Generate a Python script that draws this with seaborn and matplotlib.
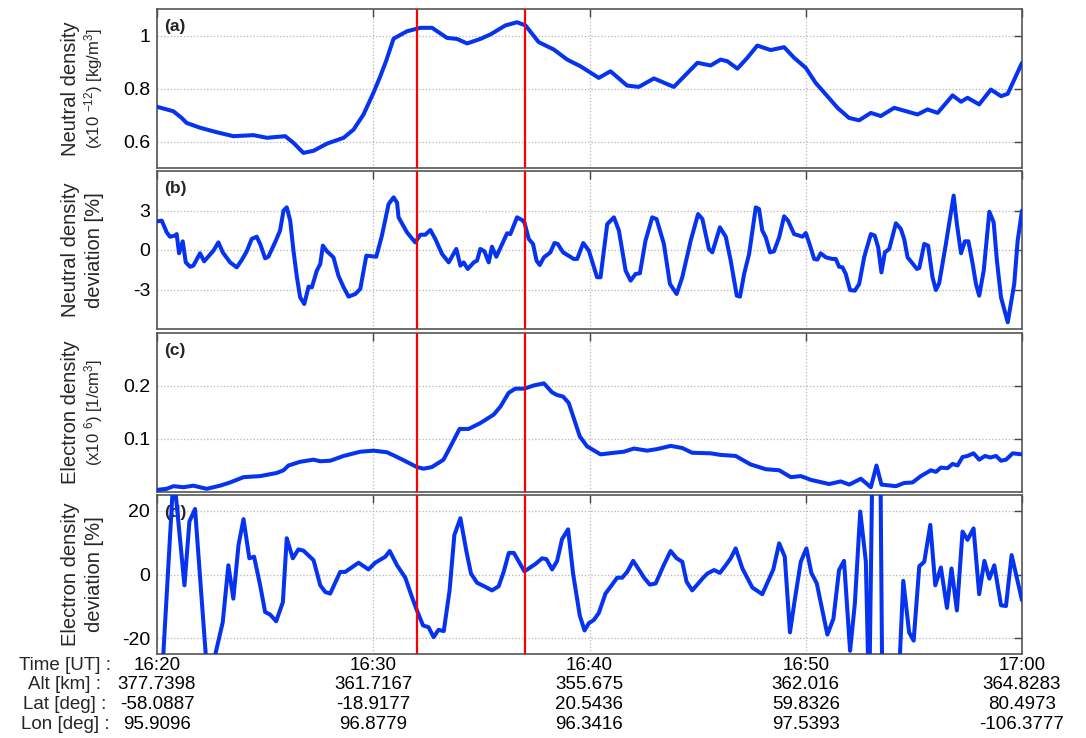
import matplotlib
matplotlib.use("Agg")
import matplotlib.pyplot as plt
import numpy as np
import pandas as pd
import seaborn as sns

# ---------------- data (minutes after 16:20 UT) ----------------
t_a = [0, 0.76, 1.14, 1.37, 1.99, 2.76, 3.53, 4.46, 5.08, 5.93, 6.31, 6.77, 7.24, 7.86, 8.63,
       9.09, 9.55, 10.01, 10.32, 10.6, 10.94, 11.56, 12.18, 12.72, 13.41, 13.87, 14.34, 14.95,
       15.42, 16.11, 16.65, 17.04, 17.65, 18.35, 18.97, 19.58, 20.43, 20.97, 21.74, 22.28,
       22.98, 23.90, 24.99, 25.60, 26.06, 26.37, 26.84, 27.30, 27.76, 28.38, 29.0, 29.46, 30.0,
       30.46, 31.0, 31.47, 32.0, 32.47, 33.01, 33.47, 34.09, 35.17, 35.63, 36.10, 36.79, 37.18,
       37.48, 38.02, 38.56, 39.03, 39.34, 40.0]
neutral_density = [0.731, 0.714, 0.689, 0.670, 0.652, 0.635, 0.620, 0.624, 0.614, 0.620,
                   0.595, 0.557, 0.565, 0.592, 0.614, 0.645, 0.702, 0.784, 0.845, 0.905,
                   0.988, 1.016, 1.029, 1.029, 0.991, 0.987, 0.970, 0.987, 1.004, 1.038,
                   1.050, 1.038, 0.975, 0.947, 0.909, 0.884, 0.840, 0.865, 0.811, 0.806,
                   0.838, 0.806, 0.897, 0.887, 0.909, 0.903, 0.875, 0.916, 0.962, 0.945,
                   0.956, 0.916, 0.878, 0.821, 0.771, 0.727, 0.689, 0.680, 0.708, 0.696,
                   0.727, 0.702, 0.721, 0.708, 0.774, 0.750, 0.765, 0.740, 0.796, 0.771,
                   0.780, 0.897]

t_b = [0, 0.22, 0.45, 0.60, 0.83, 0.91, 1.02, 1.19, 1.33, 1.53,
       1.68, 1.99, 2.18, 2.61, 2.84, 3.04, 3.38, 3.69, 3.92, 4.15,
       4.38, 4.61, 4.77, 5.00, 5.15, 5.46, 5.69, 5.85, 6.00, 6.16,
       6.31, 6.47, 6.62, 6.81, 7.01, 7.16, 7.39, 7.55, 7.67, 7.86,
       8.16, 8.39, 8.63, 8.86, 9.17, 9.40, 9.68, 10.14, 10.40, 10.71,
       10.94, 11.10, 11.17, 11.56, 11.94, 12.18, 12.41, 12.64, 12.87, 13.18,
       13.49, 13.84, 14.03, 14.18, 14.37, 14.65, 14.80, 14.95, 15.14, 15.34,
       15.49, 15.69, 15.96, 16.19, 16.34, 16.65, 16.88, 16.99, 17.19, 17.39,
       17.55, 17.70, 17.89, 18.19, 18.38, 18.53, 18.78, 19.27, 19.43, 19.71,
       19.97, 20.35, 20.51, 20.82, 21.13, 21.36, 21.67, 21.90, 22.13, 22.33,
       22.59, 22.90, 23.10, 23.44, 23.72, 24.03, 24.29, 24.68, 25.02, 25.22,
       25.52, 25.68, 26.03, 26.30, 26.53, 26.81, 26.96, 27.15, 27.38, 27.69,
       27.84, 27.99, 28.15, 28.35, 28.53, 28.77, 29.00, 29.18, 29.46, 29.69,
       29.85, 30.00, 30.15, 30.39, 30.54, 30.69, 30.93, 31.23, 31.39, 31.54,
       31.70, 31.85, 32.05, 32.27, 32.47, 32.70, 33.01, 33.19, 33.35, 33.50,
       33.66, 33.86, 34.17, 34.40, 34.55, 34.71, 34.86, 35.14, 35.25, 35.48,
       35.66, 35.86, 36.02, 36.17, 36.48, 36.84, 36.99, 37.18, 37.36, 37.52,
       37.72, 37.87, 38.02, 38.23, 38.49, 38.69, 38.84, 39.03, 39.34, 39.64,
       39.80, 40.00]
neutral_deviation = [2.18, 2.23, 1.34, 1.01, 1.09, 1.21, -0.25, 0.66, -0.94, -1.27,
                     -1.19, -0.25, -0.86, -0.05, 0.58, -0.18, -0.94, -1.32, -0.76, -0.10,
                     0.84, 1.01, 0.46, -0.63, -0.51, 0.58, 1.47, 2.99, 3.24, 2.23,
                     -0.05, -2.07, -3.60, -4.10, -2.78, -2.84, -1.57, -1.06, 0.33, -0.10,
                     -0.56, -1.95, -2.84, -3.54, -3.34, -2.96, -0.43, -0.51, 1.09, 3.49,
                     4.00, 3.60, 2.48, 1.34, 0.58, 1.16, 1.16, 1.52, 0.84, -0.30,
                     -0.94, 0.08, -1.19, -0.94, -1.44, -0.94, -0.81, 0.08, -0.10, -0.94,
                     0.25, -0.51, 0.46, 1.27, 1.21, 2.48, 2.28, 2.10, 0.84, 0.46,
                     -0.81, -1.14, -0.56, -0.18, 0.53, 0.46, -0.18, -0.68, -0.68, 0.53,
                     -0.05, -2.07, -2.07, 1.97, 2.48, 1.47, -1.57, -2.33, -1.82, -1.77,
                     0.71, 2.48, 2.35, 0.46, -2.58, -3.34, -2.07, 0.71, 2.73, 2.35,
                     0.08, -0.18, 1.72, 1.01, -0.81, -3.47, -3.54, -1.82, -0.30, 3.24,
                     3.11, 1.47, 0.96, -0.18, -0.10, 0.96, 2.56, 2.23, 1.21, 1.09,
                     1.01, 1.29, 0.58, -0.68, -0.73, -0.25, -0.56, -0.68, -0.68, -1.27,
                     -1.32, -1.82, -3.04, -3.09, -2.58, -0.56, 1.21, 1.09, 0.20, -1.70,
                     -0.18, 0.08, 2.03, 1.59, 0.84, -0.56, -0.86, -1.44, -1.37, 0.46,
                     0.33, -2.07, -3.04, -2.53, 0.46, 4.13, 1.97, -0.25, 0.66, 0.66,
                     -1.06, -2.58, -3.47, -1.57, 2.91, 2.10, -0.81, -3.60, -5.49, -2.58,
                     0.71, 2.99]

t_c = [0, 0.45, 0.76, 1.22, 1.68, 2.30, 2.92, 3.38, 4.0, 4.77,
       5.54, 5.85, 6.08, 6.62, 7.24, 7.55, 8.01, 8.63, 9.40, 10.02,
       10.63, 11.0, 11.40, 12.02, 12.33, 12.71, 13.25, 13.56, 13.99, 14.41,
       14.95, 15.57, 15.88, 16.26, 16.57, 16.99, 17.42, 17.89, 18.27, 18.50,
       18.78, 19.04, 19.55, 19.89, 20.51, 21.13, 21.59, 22.05, 22.67, 23.13,
       23.75, 24.29, 24.75, 25.60, 26.06, 26.76, 27.45, 28.15, 28.77, 29.31,
       29.77, 30.23, 31.08, 31.62, 32.01, 32.55, 33.01, 33.27, 33.50, 34.17,
       34.55, 34.94, 35.32, 35.79, 36.02, 36.25, 36.56, 36.79, 37.02, 37.25,
       37.48, 37.76, 38.02, 38.29, 38.53, 38.80, 39.03, 39.26, 39.57, 40.0]
electron_density = [0.004, 0.006, 0.011, 0.009, 0.012, 0.006, 0.012, 0.018, 0.028, 0.030,
                    0.036, 0.041, 0.050, 0.057, 0.061, 0.058, 0.059, 0.068, 0.076, 0.078,
                    0.075, 0.068, 0.060, 0.047, 0.044, 0.047, 0.061, 0.085, 0.119, 0.119,
                    0.130, 0.146, 0.161, 0.187, 0.195, 0.195, 0.201, 0.205, 0.188, 0.183,
                    0.180, 0.168, 0.105, 0.086, 0.071, 0.074, 0.076, 0.082, 0.078, 0.081,
                    0.087, 0.083, 0.074, 0.073, 0.070, 0.068, 0.052, 0.043, 0.041, 0.028,
                    0.030, 0.023, 0.015, 0.020, 0.014, 0.025, 0.009, 0.050, 0.014, 0.011,
                    0.017, 0.018, 0.030, 0.041, 0.038, 0.046, 0.045, 0.053, 0.050, 0.066,
                    0.068, 0.073, 0.061, 0.068, 0.065, 0.068, 0.059, 0.061, 0.073, 0.071]

t_d = [0, 0.77, 1.27, 1.50, 1.76, 2.36, 3.04, 3.30, 3.53, 3.77,
       4.0, 4.27, 4.49, 4.77, 5.0, 5.23, 5.51, 5.82, 6.0, 6.28,
       6.54, 6.77, 7.24, 7.55, 7.78, 8.01, 8.47, 8.70, 9.32, 9.78,
       10.09, 10.56, 10.76, 11.10, 11.48, 11.79, 12.02, 12.30, 12.56, 12.79,
       13.02, 13.26, 13.53, 13.75, 14.03, 14.31, 14.52, 14.80, 15.19, 15.49,
       15.80, 16.03, 16.27, 16.50, 16.99, 17.50, 17.81, 18.01, 18.27, 18.50,
       18.73, 19.01, 19.24, 19.55, 19.77, 19.97, 20.20, 20.43, 20.74, 20.97,
       21.28, 21.51, 21.74, 22.02, 22.28, 22.52, 22.79, 23.06, 23.41, 23.75,
       24.03, 24.29, 24.49, 24.75, 25.26, 25.45, 25.76, 26.03, 26.30, 26.53,
       26.76, 27.07, 27.53, 27.99, 28.50, 28.77, 29.03, 29.27, 29.49, 29.77,
       30.03, 30.26, 30.51, 31.00, 31.28, 31.54, 31.77, 32.05, 32.27, 32.52,
       32.78, 32.93, 33.10, 33.44, 33.55, 33.94, 34.27, 34.51, 34.78, 34.99,
       35.25, 35.48, 35.76, 35.99, 36.25, 36.53, 36.74, 36.99, 37.25, 37.48,
       37.76, 38.02, 38.26, 38.49, 38.72, 39.03, 39.26, 39.52, 40.0]
electron_deviation = [-60, 32, -3.4, 16.7, 20.6, -35, -15.0, 2.9, -7.6, 9.3,
                      17.4, 5.1, 5.6, -3.4, -11.8, -12.6, -14.7, -8.7, 11.4, 5.1,
                      7.9, 7.5, 4.5, -3.4, -5.5, -6.0, 0.8, 0.8, 3.7, 1.6,
                      3.7, 5.6, 7.4, 2.9, -1.0, -7.1, -11.3, -16.0, -16.6, -19.7,
                      -17.4, -17.8, -5.0, 12.4, 17.7, 7.2, 0.3, -2.6, -3.9, -5.0,
                      -3.7, 0.8, 6.8, 6.8, 1.0, 3.3, 5.1, 4.8, 1.6, 4.2,
                      11.1, 14.2, 0.3, -12.9, -17.6, -15.3, -14.3, -12.1, -6.0, -3.9,
                      -1.0, -1.0, 0.8, 4.3, 1.6, -1.0, -3.2, -2.8, 2.6, 7.4,
                      5.1, 4.0, -2.3, -5.0, -1.0, 0.3, 1.4, 0.5, 2.9, 5.1,
                      8.2, 1.9, -4.1, -6.2, 1.6, 9.8, 5.6, -18.2, -8.1, 4.0,
                      8.2, 0.5, -2.8, -18.9, -13.9, 1.4, 4.3, -24.0, -9.2, 19.8,
                      4.0, -42, 45, 45, -45, -40, -38, -2.0, -18.2, -20.8,
                      2.6, 4.0, 15.6, -3.4, 2.2, -10.5, 1.9, -11.3, 13.5, 10.9,
                      14.5, -6.2, 4.3, -1.3, 2.9, -9.7, -9.9, 6.1, -8.1]

tick_minutes = [0, 10, 20, 30, 40]
time_labels = ["16:20", "16:30", "16:40", "16:50", "17:00"]
alt_labels = ["377.7398", "361.7167", "355.675", "362.016", "364.8283"]
lat_labels = ["-58.0887", "-18.9177", "20.5436", "59.8326", "80.4973"]
lon_labels = ["95.9096", "96.8779", "96.3416", "97.5393", "-106.3777"]
row_names = ["Time [UT] :", "Alt [km] :", "Lat [deg] :", "Lon [deg] :"]
event_minutes = [12, 17]

panel_tags = ["(a)", "(b)", "(c)", "(d)"]
y_main = ["Neutral density", "Neutral density", "Electron density", "Electron density"]
y_sub = [r"(x10 $^{-12}$) [kg/m$^{3}$]", "deviation [%]",
         r"(x10 $^{6}$) [1/cm$^{3}$]", "deviation [%]"]
y_limits = [(0.5, 1.1), (-6, 6), (0, 0.3), (-25, 25)]
y_ticks = [[0.6, 0.8, 1.0], [-3, 0, 3], [0.1, 0.2], [-20, 0, 20]]
y_ticklabels = [["0.6", "0.8", "1"], ["-3", "0", "3"], ["0.1", "0.2"], ["-20", "0", "20"]]

# ---------------- style ----------------
sns.set_theme(style="white")
plt.rcParams["font.family"] = ["Liberation Sans", "DejaVu Sans"]
plt.rcParams["mathtext.fontset"] = "custom"
plt.rcParams["mathtext.rm"] = "Liberation Sans"
plt.rcParams["mathtext.it"] = "Liberation Sans:italic"
plt.rcParams["mathtext.bf"] = "Liberation Sans:bold"
plt.rcParams["axes.unicode_minus"] = False

BLUE = "#0533f0"
W, H = 1086, 738
fig = plt.figure(figsize=(W / 100, H / 100), dpi=100)
left_px, right_px = 157, 1022
boxes = [(9, 168), (171, 329), (333, 492), (495, 654)]

series = [(t_a, neutral_density), (t_b, neutral_deviation),
          (t_c, electron_density), (t_d, electron_deviation)]

axes = []
for i, ((top, bot), (tx, vy)) in enumerate(zip(boxes, series)):
    ax = fig.add_axes([left_px / W, 1 - bot / H, (right_px - left_px) / W, (bot - top) / H])
    df = pd.DataFrame({"t": tx, "v": vy})
    sns.lineplot(data=df, x="t", y="v", ax=ax, color=BLUE, linewidth=2.9,
                 estimator=None, sort=False, zorder=3)
    for ev in event_minutes:
        ax.axvline(ev, color="#ff0000", linewidth=1.6, zorder=4)
    ax.set_xlim(0, 40)
    ax.set_ylim(*y_limits[i])
    ax.set_xticks(tick_minutes)
    ax.set_yticks(y_ticks[i])
    ax.set_yticklabels(y_ticklabels[i])
    ax.set_xlabel("")
    ax.set_ylabel("")
    ax.grid(True, linestyle=":", color="#b5b5b5", linewidth=0.9, zorder=0)
    ax.tick_params(axis="both", direction="in", length=6, width=1.0, color="#444444",
                   top=True, right=True, labelsize=14, labelcolor="black", pad=5)
    for s in ax.spines.values():
        s.set_color("#555555")
        s.set_linewidth(1.2)
    ax.text(0.008, 0.935, panel_tags[i], transform=ax.transAxes, fontsize=12.5,
            fontweight="bold", ha="left", va="top", zorder=2)
    cy = 1 - (top + bot) / 2 / H
    fig.text(71 / W, cy, y_main[i], rotation=90, ha="center", va="center", fontsize=14.5)
    fig.text(94 / W, cy, y_sub[i], rotation=90, ha="center", va="center",
             fontsize=12 if i in (0, 2) else 14.5)
    if i < 3:
        ax.tick_params(labelbottom=False)
    axes.append(ax)

axd = axes[-1]
col_labels = ["\n".join(v) for v in zip(time_labels, alt_labels, lat_labels, lon_labels)]
axd.set_xticklabels(col_labels, fontsize=13.5, linespacing=1.2)
axd.tick_params(axis="x", pad=2)
axd.annotate("\n".join(row_names), xy=(65 / W, 0), xycoords=("figure fraction", "axes fraction"),
             xytext=(0, -2), textcoords="offset points", ha="center", va="top",
             fontsize=13.5, linespacing=1.2)

fig.savefig("out.png", dpi=100)
